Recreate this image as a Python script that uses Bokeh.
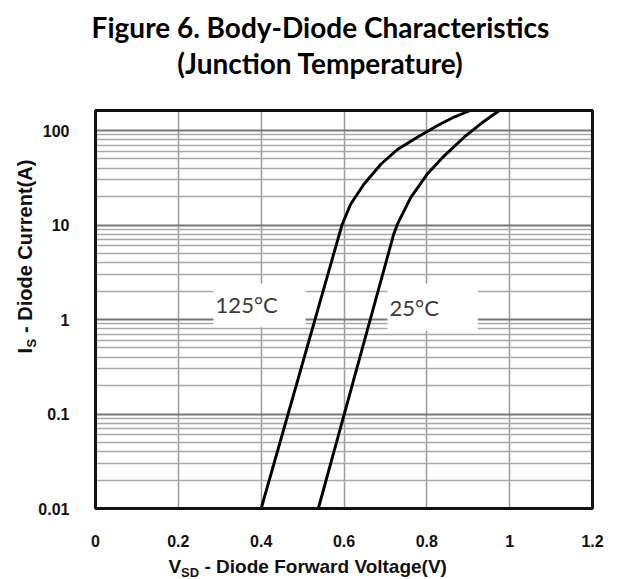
import math
from bokeh.plotting import figure
from bokeh.models import FixedTicker, Label, Range1d
from bokeh.embed import file_html
from bokeh.resources import INLINE

# ---- data ----
title_lines = ["Figure 6. Body-Diode Characteristics", "(Junction Temperature)"]

v_125 = [0.400, 0.595, 0.616, 0.648, 0.689, 0.729, 0.777, 0.826, 0.866, 0.905]
i_125 = [0.01, 10.0, 16.6, 27.0, 44.0, 63.0, 85.0, 113.0, 139.0, 163.0]
v_25 = [0.538, 0.720, 0.729, 0.761, 0.801, 0.842, 0.890, 0.930, 0.975]
i_25 = [0.01, 8.0, 10.2, 19.5, 34.6, 54.0, 85.0, 118.0, 163.0]

x_ticks = [0, 0.2, 0.4, 0.6, 0.8, 1.0, 1.2]
x_tick_labels = ["0", "0.2", "0.4", "0.6", "0.8", "1", "1.2"]
y_ticks = [0.01, 0.1, 1, 10, 100]
y_tick_labels = ["0.01", "0.1", "1", "10", "100"]

series_names = ["125°C", "25°C"]

# chart limits (data)
X_MIN, X_MAX = 0.0, 1.2
Y_MIN, Y_MAX = 0.01, 163.0

# ---- layout (absolute pixels) ----
W, H = 619, 579
FL, FR, FT, FB = 95, 592, 110, 508   # plot-area box inside the canvas

# extend ranges so the plotting frame covers the whole canvas and the chart
# area maps exactly to the box above
px_per_x = (FR - FL) / (X_MAX - X_MIN)
lg_lo, lg_hi = math.log10(Y_MIN), math.log10(Y_MAX)
px_per_dec = (FB - FT) / (lg_hi - lg_lo)
xr = Range1d(X_MIN - FL / px_per_x, X_MAX + (W - FR) / px_per_x)
yr = Range1d(10 ** (lg_lo - (H - FB) / px_per_dec), 10 ** (lg_hi + FT / px_per_dec))

p = figure(width=W, height=H, y_axis_type="log", x_range=xr, y_range=yr,
           output_backend="svg", toolbar_location=None,
           min_border_left=0, min_border_right=0, min_border_top=0, min_border_bottom=0,
           background_fill_color="white", border_fill_color="white")
p.title.visible = False
p.outline_line_color = None

# grids limited to the chart area
p.xgrid.ticker = FixedTicker(ticks=x_ticks)
p.xgrid.bounds = (X_MIN, X_MAX)
p.xgrid.cross_bounds = (Y_MIN, Y_MAX)
p.xgrid.grid_line_color = "#9a9a9a"
p.xgrid.grid_line_width = 1.5

minor = [k * d for d in y_ticks for k in range(2, 10) if k * d <= Y_MAX]
p.ygrid.ticker = FixedTicker(ticks=y_ticks, minor_ticks=minor)
p.ygrid.bounds = (Y_MIN, Y_MAX)
p.ygrid.cross_bounds = (X_MIN, X_MAX)
p.ygrid.grid_line_color = "#777777"
p.ygrid.grid_line_width = 1.8
p.ygrid.minor_grid_line_color = "#a8a8a8"
p.ygrid.minor_grid_line_width = 1.3

# axes placed at the chart edges
tick_font = "Liberation Sans"
for ax in (p.xaxis[0], p.yaxis[0]):
    ax.axis_line_color = None
    ax.major_tick_line_color = None
    ax.minor_tick_line_color = None
    ax.major_label_text_font = tick_font
    ax.major_label_text_font_style = "bold"
    ax.major_label_text_font_size = "16px"
    ax.major_label_text_color = "#111111"

p.xaxis.fixed_location = Y_MIN
p.xaxis.bounds = (X_MIN, X_MAX)
p.xaxis.ticker = FixedTicker(ticks=x_ticks)
p.xaxis.major_label_overrides = {t: s for t, s in zip(x_ticks, x_tick_labels)}
p.xaxis.major_label_standoff = 20
p.yaxis.fixed_location = X_MIN
p.yaxis.bounds = (Y_MIN, Y_MAX)
p.yaxis.ticker = FixedTicker(ticks=y_ticks)
p.yaxis.major_label_overrides = {t: s for t, s in zip(y_ticks, y_tick_labels)}
p.yaxis.major_label_standoff = 20

# white label boxes (cover grid)
p.quad(left=[0.285, 0.705], right=[0.507, 0.923], bottom=[0.83, 0.76], top=[2.4, 2.4],
       fill_color="white", line_color=None)

# curves
p.line(v_125, i_125, line_color="black", line_width=2.9)
p.line(v_25, i_25, line_color="black", line_width=2.9)

# chart border
p.quad(left=[X_MIN], right=[X_MAX], bottom=[Y_MIN], top=[Y_MAX],
       fill_color=None, line_color="#111111", line_width=3)

# series labels (data coordinates)
p.add_layout(Label(x=0.290, y=1.05, text=series_names[0], text_font="Lato",
                   text_font_size="22px", text_color="#3c3c3c"))
p.add_layout(Label(x=0.710, y=0.96, text=series_names[1], text_font="Lato",
                   text_font_size="22px", text_color="#3c3c3c"))

BASE_SHIFT = 0.39  # em; compensates the renderer's baseline placement


def sl(sx, sy, fs, angle=0.0, **kw):
    # absolute canvas pixels (from top-left) of the text baseline -> screen units
    d = BASE_SHIFT * fs
    if angle:
        sx -= d
    else:
        sy -= d
    return Label(x=sx, y=H - sy, x_units="screen", y_units="screen", angle=angle,
                 text_font_size=f"{fs}px", **kw)


# title
for txt, base in zip(title_lines, [37, 73]):
    p.add_layout(sl(320, base, 28, text=txt, text_font="Lato", text_font_style="bold",
                    text_align="center", text_baseline="alphabetic", text_color="#000000"))

lab_font = dict(text_font=tick_font, text_font_style="bold", text_color="#111111",
                text_baseline="alphabetic")

# x axis title: V_SD - Diode Forward Voltage(V)
xs = 168
p.add_layout(sl(xs, 573, 19, text="V", **lab_font))
p.add_layout(sl(xs + 12.5, 577, 13, text="SD", **lab_font))
p.add_layout(sl(xs + 36, 573, 19, text="- Diode Forward Voltage(V)", **lab_font))

# y axis title: I_S - Diode Current(A) (rotated)
ys = 353
p.add_layout(sl(32, ys, 20, angle=math.pi / 2, text="I", **lab_font))
p.add_layout(sl(36, ys - 6, 13, angle=math.pi / 2, text="S", **lab_font))
p.add_layout(sl(32, ys - 20.5, 20, angle=math.pi / 2, text="- Diode Current(A)", **lab_font))

open("out.html", "w").write(file_html(p, INLINE))
